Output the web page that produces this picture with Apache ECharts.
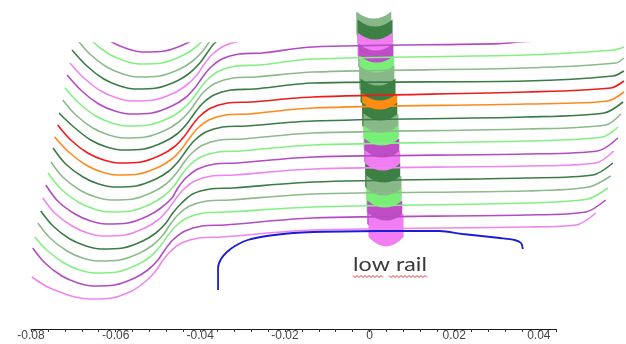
<!DOCTYPE html>
<html>
<head>
<meta charset="utf-8">
<script src="https://cdn.jsdelivr.net/npm/echarts@6/dist/echarts.min.js"></script>
<style>
    html, body {margin: 0; padding: 0; background: #fff;}
    #chart {width: 626px; height: 344px;}
</style>
</head>
<body>
<div id="chart"></div>
<script>
// profile curves, top (1) to bottom (21): [offset, height]
var curve01 = [[-0.0649,300],[-0.0609,287],[-0.0571,280],[-0.0536,277],[-0.0484,278],[-0.0436,285],[-0.0406,293],[-0.0382,303],[-0.0366,313]];
var curve02 = [[-0.0687,303],[-0.0656,288],[-0.0616,275],[-0.0578,268],[-0.0543,265],[-0.0491,266],[-0.0444,273],[-0.0413,281],[-0.0389,291],[-0.0373,301],[-0.0354,311]];
var curve03 = [[-0.0692,290],[-0.0661,275],[-0.0621,262],[-0.0583,255],[-0.0548,252],[-0.0496,253],[-0.0448,260],[-0.0418,268],[-0.0394,278],[-0.0377,288],[-0.0358,298],[-0.0330,307]];
var curve04 = [[-0.0703,279],[-0.0668,263],[-0.0628,250],[-0.0590,243],[-0.0555,240],[-0.0503,241],[-0.0455,248],[-0.0425,256],[-0.0401,266],[-0.0384,276],[-0.0366,286],[-0.0337,295],[-0.0297,300]];
var curve05 = [[-0.0708,266],[-0.0675,251],[-0.0635,238],[-0.0597,231],[-0.0562,228],[-0.0510,229],[-0.0462,236],[-0.0432,244],[-0.0408,254],[-0.0392,264],[-0.0373,274],[-0.0344,283],[-0.0304,288],[-0.0250,289],[-0.0134,294]];
var curve06 = [[-0.0715,254],[-0.0680,238],[-0.0640,225],[-0.0602,218],[-0.0566,215],[-0.0514,216],[-0.0467,223],[-0.0436,231],[-0.0413,241],[-0.0396,251],[-0.0377,261],[-0.0349,270],[-0.0309,275],[-0.0254,276],[-0.0134,282],[0.0307,285.4],[0.0369,287.5],[0.0582,291],[0.0601,294]];
var curve07 = [[-0.0720,241],[-0.0687,226],[-0.0647,213],[-0.0609,206],[-0.0574,203],[-0.0522,204],[-0.0474,211],[-0.0444,219],[-0.0420,229],[-0.0403,239],[-0.0384,249],[-0.0356,258],[-0.0316,263],[-0.0262,264],[-0.0134,270],[0.0369,274],[0.0577,279],[0.0601,282]];
var curve08 = [[-0.0725,229],[-0.0694,214],[-0.0654,201],[-0.0616,194],[-0.0581,191],[-0.0529,192],[-0.0481,199],[-0.0451,207],[-0.0427,217],[-0.0410,227],[-0.0392,237],[-0.0363,246],[-0.0323,251],[-0.0269,252],[-0.0134,257],[0.0369,261],[0.0582,266],[0.0601,271]];
var curve09 = [[-0.0734,216],[-0.0699,202],[-0.0659,189],[-0.0621,182],[-0.0585,179],[-0.0533,180],[-0.0486,187],[-0.0455,195],[-0.0432,205],[-0.0415,215],[-0.0396,225],[-0.0368,234],[-0.0328,239],[-0.0273,240],[-0.0134,246],[0.0369,248],[0.0575,253],[0.0601,258]];
var curve10 = [[-0.0737,204],[-0.0706,189],[-0.0666,176],[-0.0628,169],[-0.0592,166],[-0.0540,167],[-0.0493,174],[-0.0462,182],[-0.0439,192],[-0.0422,202],[-0.0403,212],[-0.0375,221],[-0.0335,226],[-0.0280,227],[-0.0134,232],[0.0369,237],[0.0570,241],[0.0601,248]];
var curve11 = [[-0.0744,192],[-0.0711,177],[-0.0670,164],[-0.0633,157],[-0.0597,154],[-0.0545,155],[-0.0498,162],[-0.0467,170],[-0.0444,180],[-0.0427,190],[-0.0408,200],[-0.0380,209],[-0.0340,214],[-0.0285,215],[-0.0134,221],[0.0369,225],[0.0563,228],[0.0601,237]];
var curve12 = [[-0.0748,181],[-0.0718,165],[-0.0677,152],[-0.0640,145],[-0.0604,142],[-0.0552,143],[-0.0505,150],[-0.0474,158],[-0.0451,168],[-0.0434,178],[-0.0415,188],[-0.0387,197],[-0.0347,202],[-0.0292,203],[-0.0134,208],[0.0369,212],[0.0554,216],[0.0599,227]];
var curve13 = [[-0.0753,167],[-0.0725,152],[-0.0685,139],[-0.0647,132],[-0.0611,129],[-0.0559,130],[-0.0512,137],[-0.0481,145],[-0.0458,155],[-0.0441,165],[-0.0422,175],[-0.0394,184],[-0.0354,189],[-0.0299,190],[-0.0134,196],[0.0369,200],[0.0558,204],[0.0594,215]];
var curve14 = [[-0.0760,156],[-0.0729,140],[-0.0689,127],[-0.0651,120],[-0.0616,117],[-0.0564,118],[-0.0517,125],[-0.0486,133],[-0.0462,143],[-0.0446,153],[-0.0427,163],[-0.0399,172],[-0.0358,177],[-0.0304,178],[-0.0134,184],[0.0369,188],[0.0551,192],[0.0587,202]];
var curve15 = [[-0.0765,144],[-0.0737,128],[-0.0696,115],[-0.0659,108],[-0.0623,105],[-0.0571,106],[-0.0524,113],[-0.0493,121],[-0.0467,131],[-0.0453,141],[-0.0434,151],[-0.0406,160],[-0.0366,165],[-0.0311,166],[-0.0134,172],[0.0369,175],[0.0539,178],[0.0587,191]];
var curve16 = [[-0.0772,131],[-0.0744,116],[-0.0703,103],[-0.0666,96],[-0.0630,93],[-0.0578,94],[-0.0531,101],[-0.0500,109],[-0.0477,119],[-0.0460,129],[-0.0441,139],[-0.0413,148],[-0.0373,153],[-0.0318,154],[-0.0134,160],[0.0369,163],[0.0535,166],[0.0577,178]];
var curve17 = [[-0.0777,118],[-0.0748,103],[-0.0708,90],[-0.0670,83],[-0.0635,80],[-0.0583,81],[-0.0536,88],[-0.0505,96],[-0.0481,106],[-0.0465,116],[-0.0444,126],[-0.0418,135],[-0.0377,140],[-0.0323,141],[-0.0134,147],[0.0369,151],[0.0528,154],[0.0575,166]];
var curve18 = [[-0.0784,106],[-0.0755,91],[-0.0715,78],[-0.0678,71],[-0.0642,68],[-0.0590,69],[-0.0543,76],[-0.0512,84],[-0.0488,94],[-0.0472,104],[-0.0453,114],[-0.0425,123],[-0.0384,128],[-0.0330,129],[-0.0134,135],[0.0369,138],[0.0518,142],[0.0570,153]];
var curve19 = [[-0.0791,92],[-0.0763,79],[-0.0722,66],[-0.0685,59],[-0.0649,56],[-0.0597,57],[-0.0550,64],[-0.0519,72],[-0.0496,82],[-0.0479,92],[-0.0460,102],[-0.0432,111],[-0.0392,116],[-0.0337,117],[-0.0134,122],[0.0369,126],[0.0516,130],[0.0563,141]];
var curve20 = [[-0.0796,81],[-0.0767,66],[-0.0727,53],[-0.0689,46],[-0.0654,43],[-0.0602,44],[-0.0555,51],[-0.0524,59],[-0.0500,69],[-0.0484,79],[-0.0465,89],[-0.0436,98],[-0.0396,103],[-0.0342,104],[-0.0134,111],[0.0369,114],[0.0511,117],[0.0558,129]];
var curve21 = [[-0.0798,52],[-0.0765,43],[-0.0732,37],[-0.0696,32],[-0.0661,30],[-0.0609,31],[-0.0562,38],[-0.0531,47],[-0.0507,57],[-0.0491,67],[-0.0472,77],[-0.0444,86],[-0.0403,91],[-0.0349,92],[-0.0134,99],[0.0369,102],[0.0488,104],[0.0535,116]];
var curveHue = ['mag','lg','gg','dg','pink','mag','lg','gg','dg','red','orange','dg','gg','lg','mag','pink','dg','gg','lg','mag','pink'];

// low rail
var lowRail = [[-0.0358,39],[-0.0358,61],[-0.0351,70],[-0.0337,77],[-0.0318,83],[-0.0288,89],[-0.0243,93],[-0.0181,96],[-0.0134,97],[0.0024,98],[0.0166,98],[0.0220,95],[0.0308,91],[0.0343,89],[0.0358,86],[0.0362,80]];

// contact markers near 0, top to bottom
var blobX = [0.0010,0.0013,0.0013,0.0015,0.0017,0.0017,0.0020,0.0024,0.0024,0.0027,0.0027,0.0029,0.0031,0.0031,0.0034,0.0034,0.0036,0.0039];
var blobY = [301,293,280,269,257,247,234,219,210,199,187,174,162,149,137,124,112,99];
var blobHue = ['gg','dg','pink','mag','lg','gg','dg','orange','dg','gg','lg','mag','pink','dg','gg','lg','mag','pink'];

var tickLabels = ['-0.08','-0.06','-0.04','-0.02','0','0.02','0.04'];

var lineColor = {mag:'#b24cc2', pink:'#ef86ef', lg:'#84f084', gg:'#8dba8d', dg:'#3b7b46', red:'#ee1c1c', orange:'#ff8a1c'};
var blobColor = {mag:'#c04cc8', pink:'#f27cf2', lg:'#78f078', gg:'#88b888', dg:'#3d8044', orange:'#ff8c10'};

var curves = [curve01,curve02,curve03,curve04,curve05,curve06,curve07,curve08,curve09,curve10,
    curve11,curve12,curve13,curve14,curve15,curve16,curve17,curve18,curve19,curve20,curve21];

var chart = echarts.init(document.getElementById('chart'), null, {renderer: 'canvas'});

var series = curves.map(function (d, i) {
    return {
        type: 'line', xAxisIndex: 0, yAxisIndex: 0, data: d,
        showSymbol: false, smooth: 0.3, clip: true, silent: true,
        lineStyle: {color: lineColor[curveHue[i]], width: 1.6}
    };
});
series.push({
    type: 'line', xAxisIndex: 0, yAxisIndex: 0, data: lowRail,
    showSymbol: false, smooth: 0.3, clip: true, silent: true,
    lineStyle: {color: '#1c1cd6', width: 1.8}
});
// chevron-like marker, later (lower) ones painted over the upper ones
series.push({
    type: 'scatter', xAxisIndex: 0, yAxisIndex: 0, clip: false, silent: true,
    symbol: 'path://M0,2 Q17,14 34,2 L34,22 Q17,38 0,22 Z', symbolSize: [35, 33],
    data: blobX.map(function (x, i) {
        return {value: [x, blobY[i]], itemStyle: {color: blobColor[blobHue[i]], opacity: 1}};
    })
});
series.push({type: 'line', xAxisIndex: 1, yAxisIndex: 1, data: []});

function wave(x0, x1, y) {
    var pts = [];
    for (var x = x0, k = 0; x <= x1; x += 2, k++) pts.push([x, y + (k % 2 ? 1.5 : -0.5)]);
    return pts;
}

var option = {
    animation: false,
    backgroundColor: '#fff',
    grid: [
        {left: 31, right: 0, top: 43, bottom: 15, outerBoundsMode: 'none', containLabel: false},
        {left: 31, right: 70.2, top: 43, bottom: 15, outerBoundsMode: 'none', containLabel: false}
    ],
    xAxis: [
        {gridIndex: 0, type: 'value', min: -0.08, max: 0.0606, show: false},
        {
            gridIndex: 1, type: 'value', min: -0.08, max: 0.044, interval: 0.004,
            axisLine: {show: true, lineStyle: {color: '#1a1a1a', width: 1}},
            axisTick: {show: true, length: 3, lineStyle: {color: '#333'}},
            splitLine: {show: false},
            axisLabel: {
                margin: 1, fontSize: 12, color: '#444', fontFamily: 'Liberation Sans',
                showMinLabel: true, showMaxLabel: true,
                formatter: function (v) {
                    var k = Math.round(v * 1000);
                    return k % 20 === 0 ? tickLabels[(k + 80) / 20] : '';
                }
            }
        }
    ],
    yAxis: [
        {gridIndex: 0, type: 'value', min: 0, max: 286, show: false},
        {gridIndex: 1, type: 'value', min: 0, max: 1, show: false}
    ],
    series: series,
    graphic: [
        {
            type: 'text', x: 390, y: 265, scaleX: 1.26, silent: true,
            style: {text: 'low rail', align: 'center', verticalAlign: 'middle',
                font: '18.5px Lato', fill: '#3a3a3a'}
        },
        {type: 'polyline', silent: true, shape: {points: wave(353, 383, 276)},
            style: {stroke: '#e03a3a', lineWidth: 1, fill: null}},
        {type: 'polyline', silent: true, shape: {points: wave(389, 427, 276)},
            style: {stroke: '#e03a3a', lineWidth: 1, fill: null}}
    ]
};

chart.setOption(option);
</script>
</body>
</html>
